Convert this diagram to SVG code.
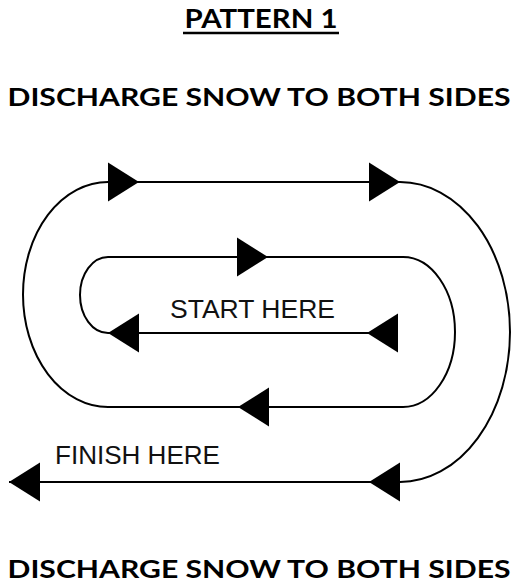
<svg xmlns="http://www.w3.org/2000/svg" xmlns:xlink="http://www.w3.org/1999/xlink" width="515" height="583" viewBox="0 0 515 583">
  <style>
    .head { font-family: Lato, "Open Sans", "DejaVu Sans", sans-serif; font-weight: bold; fill: #000; }
    .lbl { font-family: "Liberation Sans", Arial, sans-serif; fill: #111; font-size: 25px; }
    .track { fill: none; stroke: #000; stroke-width: 2; }
    .arrow { fill: #000; }
  </style>
  <defs>
    <polygon id="tri" points="0,-19.5 31,0 0,19.5"/>
  </defs>
  <rect width="515" height="583" fill="#fff"/>

  <g id="title">
    <text class="head" x="261" y="28" font-size="27" text-anchor="middle" textLength="153" lengthAdjust="spacingAndGlyphs">PATTERN 1</text>
    <line x1="183" y1="33" x2="339" y2="33" stroke="#000" stroke-width="2.5"/>
  </g>
  <g id="heading-top">
    <text class="head" x="259" y="106" font-size="25" text-anchor="middle" textLength="503" lengthAdjust="spacingAndGlyphs">DISCHARGE SNOW TO BOTH SIDES</text>
  </g>
  <g id="heading-bottom">
    <text class="head" x="259" y="578" font-size="25" text-anchor="middle" textLength="503" lengthAdjust="spacingAndGlyphs">DISCHARGE SNOW TO BOTH SIDES</text>
  </g>

  <g id="connectors">
    <!-- middle (start) pass -->
    <line class="track" x1="108" y1="333" x2="398" y2="333"/>
    <!-- inner left turn -->
    <path class="track" d="M108,333 A28,38 0 0 1 108,257"/>
    <!-- inner top pass -->
    <line class="track" x1="108" y1="257" x2="403" y2="257"/>
    <!-- inner right turn -->
    <path class="track" d="M403,257 A52,75 0 0 1 403,407"/>
    <!-- bottom pass -->
    <line class="track" x1="403" y1="407" x2="108" y2="407"/>
    <!-- outer left turn -->
    <path class="track" d="M108,407 A85,112.5 0 0 1 108,182"/>
    <!-- outer top pass -->
    <line class="track" x1="108" y1="182" x2="400" y2="182"/>
    <!-- outer right turn -->
    <path class="track" d="M400,182 A110,150 0 0 1 400,482"/>
    <!-- finish pass -->
    <line class="track" x1="400" y1="482" x2="9" y2="482"/>
  </g>

  <g id="arrows">
    <use class="arrow" xlink:href="#tri" href="#tri" transform="translate(108,182)"/>
    <use class="arrow" xlink:href="#tri" href="#tri" transform="translate(369,182)"/>
    <use class="arrow" xlink:href="#tri" href="#tri" transform="translate(237,257)"/>
    <use class="arrow" xlink:href="#tri" href="#tri" transform="translate(139,333) scale(-1,1)"/>
    <use class="arrow" xlink:href="#tri" href="#tri" transform="translate(398,333) scale(-1,1)"/>
    <use class="arrow" xlink:href="#tri" href="#tri" transform="translate(269,407) scale(-1,1)"/>
    <use class="arrow" xlink:href="#tri" href="#tri" transform="translate(400,482) scale(-1,1)"/>
    <use class="arrow" xlink:href="#tri" href="#tri" transform="translate(40,482) scale(-1,1)"/>
  </g>

  <g id="start-label">
    <text class="lbl" x="170" y="318" textLength="165" lengthAdjust="spacingAndGlyphs">START HERE</text>
  </g>
  <g id="finish-label">
    <text class="lbl" x="55" y="464" textLength="165" lengthAdjust="spacingAndGlyphs">FINISH HERE</text>
  </g>
</svg>
